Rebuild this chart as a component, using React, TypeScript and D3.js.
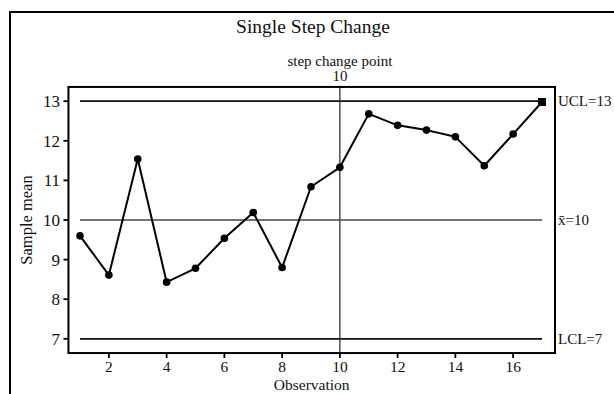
import React from "react";
import * as d3 from "d3";

// Observation numbers and sample means
const observations = [1, 2, 3, 4, 5, 6, 7, 8, 9, 10, 11, 12, 13, 14, 15, 16, 17];
const sampleMeans = [
  9.6, 8.61, 11.54, 8.43, 8.78, 9.54, 10.19, 8.8, 10.84, 11.33,
  12.68, 12.39, 12.27, 12.1, 11.37, 12.17, 12.98,
];
const xTicks = [2, 4, 6, 8, 10, 12, 14, 16];
const yTicks = [7, 8, 9, 10, 11, 12, 13];
const controlLimits = [
  { key: "ucl", value: 13, label: "UCL=13" },
  { key: "cl", value: 10, label: "x\u0304=10" },
  { key: "lcl", value: 7, label: "LCL=7" },
];
const stepPoint = 10;

const W = 614;
const H = 394;
const FONT = "'Liberation Serif', 'Times New Roman', serif";

export default function App() {
  const x = d3.scaleLinear().domain([1, 17]).range([80, 542]);
  const y = d3.scaleLinear().domain([7, 13]).range([338.8, 101.2]);

  const left = x(0.6);
  const right = x(17.45);
  const top = y(13.36);
  const bottom = y(6.64);

  const line = d3
    .line<number>()
    .x((_, i) => x(observations[i]))
    .y((d) => y(d));

  const last = sampleMeans.length - 1;

  return (
    <svg
      width={W}
      height={H}
      style={{ position: "fixed", left: 0, top: 0, background: "#fff" }}
      fontFamily={FONT}
    >
      <rect x={0} y={0} width={W} height={H} fill="#fff" />
      {/* outer frame */}
      <rect x={10} y={12} width={W + 20} height={H + 20} fill="none" stroke="#000" strokeWidth={2} />

      <text x={313} y={33} textAnchor="middle" fontSize={19.5} fill="#111">
        Single Step Change
      </text>

      {/* step change marker */}
      <text x={x(stepPoint)} y={66} textAnchor="middle" fontSize={15} fill="#111">
        step change point
      </text>
      <text x={x(stepPoint)} y={81} textAnchor="middle" fontSize={15} fill="#111">
        {stepPoint}
      </text>
      <line x1={x(stepPoint)} x2={x(stepPoint)} y1={top} y2={bottom} stroke="#222" strokeWidth={1.2} />

      {/* control limits */}
      {controlLimits.map((c) => (
        <g key={c.key}>
          <line
            x1={x(1)}
            x2={x(17)}
            y1={y(c.value)}
            y2={y(c.value)}
            stroke={c.key === "cl" ? "#444" : "#111"}
            strokeWidth={c.key === "cl" ? 1.4 : 1.8}
          />
          <text x={right + 3} y={y(c.value)} dy="0.35em" fontSize={15} fill="#111">
            {c.label}
          </text>
        </g>
      ))}

      {/* data */}
      <path d={line(sampleMeans) || ""} fill="none" stroke="#000" strokeWidth={2} strokeLinejoin="round" />
      {sampleMeans.slice(0, last).map((v, i) => (
        <circle key={i} cx={x(observations[i])} cy={y(v)} r={3.8} fill="#000" />
      ))}
      <rect x={x(observations[last]) - 4} y={y(sampleMeans[last]) - 4} width={8} height={8} fill="#000" />

      {/* plot frame */}
      <rect x={left} y={top} width={right - left} height={bottom - top} fill="none" stroke="#000" strokeWidth={2} />

      {/* y axis */}
      {yTicks.map((t) => (
        <g key={t}>
          <line x1={left - 5} x2={left} y1={y(t)} y2={y(t)} stroke="#000" strokeWidth={1.8} />
          <text x={60} y={y(t)} dy="0.35em" textAnchor="end" fontSize={17} fill="#111">
            {t}
          </text>
        </g>
      ))}

      {/* x axis */}
      {xTicks.map((t) => (
        <g key={t}>
          <line x1={x(t)} x2={x(t)} y1={bottom} y2={bottom + 5} stroke="#000" strokeWidth={1.8} />
          <text x={x(t)} y={372} textAnchor="middle" fontSize={15.5} fill="#111">
            {t}
          </text>
        </g>
      ))}

      <text x={(left + right) / 2} y={389.5} textAnchor="middle" fontSize={15.5} fill="#111">
        Observation
      </text>
      <text
        transform={`translate(32, ${(top + bottom) / 2}) rotate(-90)`}
        textAnchor="middle"
        fontSize={16.5}
        fill="#111"
      >
        Sample mean
      </text>
    </svg>
  );
}
